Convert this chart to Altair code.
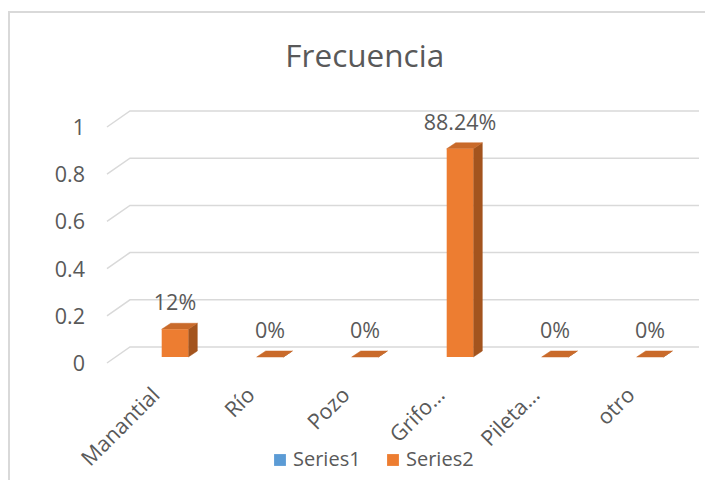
import altair as alt
import pandas as pd

# ---------------- data ----------------
categories = ["Manantial", "Río", "Pozo", "Grifo…", "Pileta…", "otro"]
values = [0.1176, 0.0, 0.0, 0.8824, 0.0, 0.0]
value_labels = ["12%", "0%", "0%", "88.24%", "0%", "0%"]
series_names = ["Series1", "Series2"]
series_colors = ["#5b9bd5", "#ed7d31"]
y_ticks = [0.0, 0.2, 0.4, 0.6, 0.8, 1.0]
y_tick_labels = ["0", "0.2", "0.4", "0.6", "0.8", "1"]
title_text = "Frecuencia"

# ---------------- 3-D geometry (style, in scale units) ----------------
HALF = 0.14          # half width of a column's front face (category units)
DX, DY = 0.095, 0.0254   # column depth offset
FRONT_X, FRONT_Y = -0.095, -0.0254   # front plane relative to column front
BACK_X, BACK_Y = 0.147, 0.0424       # back wall relative to column front
GRID_LEFT = -0.716
GRID_RIGHT = 5.516
LABEL_SHIFT = -0.052    # category label anchor, left of the front tick

FONT = "Open Sans"
TEXT = "#595959"
FRONT_C, TOP_C, SIDE_C = "#ed7d31", "#c96a2a", "#a3541e"
GRID_C = "#d9d9d9"

xs = alt.Scale(domain=[-1, 5.5], nice=False, zero=False)
ys = alt.Scale(domain=[-0.25, 1.25], nice=False, zero=False)

# front faces
front = pd.DataFrame({
    "cat": categories,
    "x0": [i - HALF for i in range(len(categories))],
    "x1": [i + HALF for i in range(len(categories))],
    "lo": [0.0] * len(categories),
    "v": values,
    "series": ["Series2"] * len(categories),
})

# side faces
side_rows = []
for i, v in enumerate(values):
    side_rows.append({"cat": categories[i], "x": i + HALF, "lo": 0.0, "hi": v})
    side_rows.append({"cat": categories[i], "x": i + HALF + DX, "lo": DY, "hi": v + DY})
side = pd.DataFrame(side_rows)

# top faces
top_rows = []
for i, v in enumerate(values):
    x0, x1 = i - HALF, i + HALF
    top_rows += [
        {"cat": categories[i], "x": x0, "lo": v, "hi": v},
        {"cat": categories[i], "x": x0 + DX, "lo": v, "hi": v + DY},
        {"cat": categories[i], "x": x1, "lo": v, "hi": v + DY},
        {"cat": categories[i], "x": x1 + DX, "lo": v + DY, "hi": v + DY},
    ]
top = pd.DataFrame(top_rows)

# gridlines (left wall diagonal + back wall horizontal)
grid_rows = []
for t in y_ticks:
    grid_rows += [
        {"t": t, "x": GRID_LEFT, "y": t + FRONT_Y},
        {"t": t, "x": GRID_LEFT + (BACK_X - FRONT_X), "y": t + BACK_Y},
        {"t": t, "x": GRID_RIGHT, "y": t + BACK_Y},
    ]
grid = pd.DataFrame(grid_rows)

ylab = pd.DataFrame({"x": [-0.947] * len(y_ticks),
                     "y": [t + FRONT_Y for t in y_ticks],
                     "label": y_tick_labels})
xlab = pd.DataFrame({"x": [i + FRONT_X + LABEL_SHIFT for i in range(len(categories))],
                     "y": [-0.167] * len(categories),
                     "label": categories})
vlab = pd.DataFrame({"x": list(range(len(categories))), "y": values, "label": value_labels})

border = alt.Chart(pd.DataFrame({"a": [0]})).mark_rect(
    fillOpacity=0, stroke=GRID_C, strokeWidth=2
).encode(x=alt.value(-71), x2=alt.value(720), y=alt.value(-50), y2=alt.value(520))

grid_layer = alt.Chart(grid).mark_line(color=GRID_C, strokeWidth=1.5).encode(
    x=alt.X("x:Q", scale=xs, axis=None),
    y=alt.Y("y:Q", scale=ys, axis=None),
    detail="t:N",
)

side_layer = alt.Chart(side).mark_area(orient="vertical", color=SIDE_C, stroke=SIDE_C, strokeWidth=0.5).encode(
    x=alt.X("x:Q", scale=xs, axis=None),
    y=alt.Y("hi:Q", scale=ys, axis=None),
    y2="lo:Q",
    detail="cat:N",
)

top_layer = alt.Chart(top).mark_area(orient="vertical", color=TOP_C, stroke=TOP_C, strokeWidth=0.5).encode(
    x=alt.X("x:Q", scale=xs, axis=None),
    y=alt.Y("hi:Q", scale=ys, axis=None),
    y2="lo:Q",
    detail="cat:N",
)

front_layer = alt.Chart(front).mark_bar().encode(
    x=alt.X("x0:Q", scale=xs, axis=None),
    x2="x1:Q",
    y=alt.Y("v:Q", scale=ys, axis=None),
    y2="lo:Q",
    color=alt.Color(
        "series:N",
        scale=alt.Scale(domain=series_names, range=series_colors),
        legend=alt.Legend(
            title=None, orient="none", legendX=190, legendY=388,
            direction="horizontal", symbolType="square", symbolSize=140,
            symbolStrokeWidth=0, labelFont=FONT, labelFontSize=20,
            labelColor=TEXT, columnPadding=22, labelOffset=3,
        ),
    ),
)

val_layer = alt.Chart(vlab).mark_text(
    font=FONT, fontSize=21.5, color=TEXT, baseline="alphabetic", dy=-19
).encode(x=alt.X("x:Q", scale=xs, axis=None), y=alt.Y("y:Q", scale=ys, axis=None), text="label:N")

ylab_layer = alt.Chart(ylab).mark_text(
    font=FONT, fontSize=21.5, color=TEXT, align="right", baseline="middle", dy=2
).encode(x=alt.X("x:Q", scale=xs, axis=None), y=alt.Y("y:Q", scale=ys, axis=None), text="label:N")

xlab_layer = alt.Chart(xlab).mark_text(
    font=FONT, fontSize=21.5, color=TEXT, align="right", baseline="alphabetic", angle=315
).encode(x=alt.X("x:Q", scale=xs, axis=None), y=alt.Y("y:Q", scale=ys, axis=None), text="label:N")

chart = alt.layer(
    border, grid_layer, side_layer, top_layer, front_layer, val_layer, ylab_layer, xlab_layer
).properties(
    width=617.5,
    height=354,
    autosize=alt.AutoSizeParams(type="none"),
    padding={"left": 72, "top": 54, "right": 7, "bottom": 64},
    title=alt.TitleParams(
        text=title_text, font=FONT, fontSize=31.5, fontWeight="normal", color=TEXT,
        anchor="middle", frame="group", offset=-58, dx=-24, dy=29, baseline="alphabetic",
    ),
).configure_view(strokeWidth=0)

chart.save("out.html", embed_options={"renderer": "svg", "actions": False})
